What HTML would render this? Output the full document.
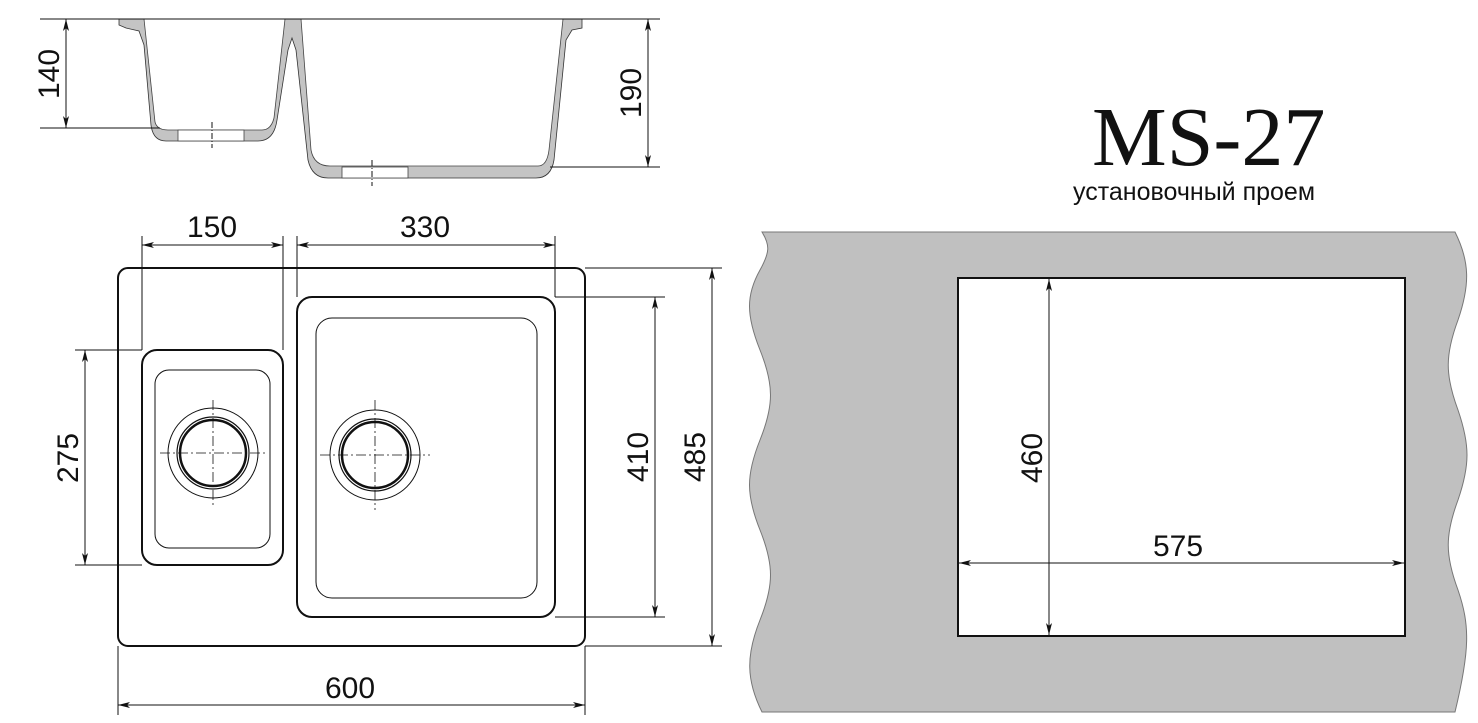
<!DOCTYPE html><html><head><style>body{margin:0;background:#fff}svg{display:block}text{font-family:"Liberation Sans Narrow","Liberation Sans",sans-serif;fill:#111}</style></head><body>
<svg width="1478" height="723" viewBox="0 0 1478 723" xmlns="http://www.w3.org/2000/svg">
<defs><marker id="a" viewBox="0 0 12 6" refX="12" refY="3" markerWidth="12" markerHeight="6" orient="auto-start-reverse" markerUnits="userSpaceOnUse"><path d="M0,0L12,3L0,6L3,3z" fill="#111"/></marker></defs>
<g stroke="#111" stroke-width="1" fill="none">
<!-- cross-section -->
<path d="M119,19H582V28L572,30L566,40L554,160Q551,178 536,178H328Q312,178 308,160L296,50L292,38L288,50L277,120Q274,141 258,141H166Q153,141 151,125L144,45L139,31L126,28L119,25Z" fill="#c4c4c4" stroke="#333" stroke-width="0.8"/>
<path d="M144,19L155,122Q157,130 168,130H262Q271,130 274,118L285,19Z" fill="#fff" stroke="#444" stroke-width="0.8"/>
<path d="M301,19L311,150Q314,166 330,166H538Q547,166 549,150L563,19Z" fill="#fff" stroke="#444" stroke-width="0.8"/>
<line x1="40" y1="19" x2="660" y2="19"/>
<line x1="40" y1="128" x2="160" y2="128"/>
<line x1="550" y1="167" x2="660" y2="167"/>
<rect x="178" y="130" width="66" height="11" fill="#fff" stroke="#444" stroke-width="0.8"/>
<rect x="342" y="167" width="66" height="11" fill="#fff" stroke="#444" stroke-width="0.8"/>
<line x1="212" y1="122" x2="212" y2="148" stroke-dasharray="6,2,1,2"/>
<line x1="372" y1="160" x2="372" y2="186" stroke-dasharray="6,2,1,2"/>
<line x1="66" y1="19" x2="66" y2="128" marker-start="url(#a)" marker-end="url(#a)"/>
<line x1="648" y1="19" x2="648" y2="167" marker-start="url(#a)" marker-end="url(#a)"/>
<!-- plan -->
<rect x="118" y="268" width="467" height="378" rx="10" stroke-width="2"/>
<rect x="142" y="350" width="141" height="215" rx="15" stroke-width="2"/>
<rect x="155" y="370" width="115" height="178" rx="14"/>
<rect x="297" y="297" width="258" height="320" rx="15" stroke-width="2"/>
<rect x="316" y="318" width="221" height="280" rx="16"/>
<circle cx="213" cy="453" r="45"/><circle cx="213" cy="453" r="36" stroke-width="1.2"/><circle cx="213" cy="453" r="33" stroke-width="2.5"/>
<circle cx="375" cy="455" r="45"/><circle cx="375" cy="455" r="36" stroke-width="1.2"/><circle cx="375" cy="455" r="33" stroke-width="2.5"/>
<g stroke-dasharray="10,3,2,3" stroke-width="0.8"><line x1="160" y1="453" x2="266" y2="453"/><line x1="213" y1="400" x2="213" y2="506"/><line x1="320" y1="455" x2="430" y2="455"/><line x1="375" y1="400" x2="375" y2="510"/></g>
<line x1="142" y1="236" x2="142" y2="350"/><line x1="283" y1="236" x2="283" y2="350"/>
<line x1="297" y1="236" x2="297" y2="297"/><line x1="555" y1="236" x2="555" y2="297"/>
<line x1="118" y1="646" x2="118" y2="715"/><line x1="585" y1="646" x2="585" y2="715"/>
<line x1="75" y1="350" x2="142" y2="350"/><line x1="75" y1="565" x2="142" y2="565"/>
<line x1="555" y1="297" x2="665" y2="297"/><line x1="555" y1="617" x2="665" y2="617"/>
<line x1="585" y1="268" x2="722" y2="268"/><line x1="585" y1="646" x2="722" y2="646"/>
<line x1="142" y1="245" x2="283" y2="245" marker-start="url(#a)" marker-end="url(#a)"/>
<line x1="297" y1="245" x2="555" y2="245" marker-start="url(#a)" marker-end="url(#a)"/>
<line x1="118" y1="705" x2="585" y2="705" marker-start="url(#a)" marker-end="url(#a)"/>
<line x1="85" y1="350" x2="85" y2="565" marker-start="url(#a)" marker-end="url(#a)"/>
<line x1="655" y1="297" x2="655" y2="617" marker-start="url(#a)" marker-end="url(#a)"/>
<line x1="712" y1="268" x2="712" y2="646" marker-start="url(#a)" marker-end="url(#a)"/>
</g>
<path d="M762,232H1455C1470,262 1470,285 1458,320C1445,355 1445,375 1458,410C1470,445 1470,465 1458,500C1445,535 1445,555 1458,590C1470,625 1470,650 1455,712H762C746,680 746,655 760,620C774,585 774,565 760,530C746,495 746,475 760,440C774,405 774,385 760,350C746,315 746,295 760,270C770,252 770,245 762,232Z" fill="#c0c0c0" stroke="#777" stroke-width="1"/>
<rect x="958" y="278" width="447" height="358" fill="#fff" stroke="#111" stroke-width="2"/>
<g stroke="#111" stroke-width="1"><line x1="1049" y1="279" x2="1049" y2="635" marker-start="url(#a)" marker-end="url(#a)"/><line x1="959" y1="563" x2="1404" y2="563" marker-start="url(#a)" marker-end="url(#a)"/></g>
<g font-size="30">
<text x="212" y="237" text-anchor="middle">150</text>
<text x="425" y="237" text-anchor="middle">330</text>
<text x="350" y="698" text-anchor="middle">600</text>
<text x="1178" y="556" text-anchor="middle">575</text>
<text transform="translate(78,458) rotate(-90)" text-anchor="middle">275</text>
<text transform="translate(648,457) rotate(-90)" text-anchor="middle">410</text>
<text transform="translate(705,457) rotate(-90)" text-anchor="middle">485</text>
<text transform="translate(1042,458) rotate(-90)" text-anchor="middle">460</text>
<text transform="translate(59,74) rotate(-90)" text-anchor="middle">140</text>
<text transform="translate(641,93) rotate(-90)" text-anchor="middle">190</text>
</g>
<text x="1092" y="165" font-size="84" style="font-family:'Liberation Serif',serif">MS-27</text>
<text x="1073" y="200" font-size="25">установочный проем</text>
</svg></body></html>
